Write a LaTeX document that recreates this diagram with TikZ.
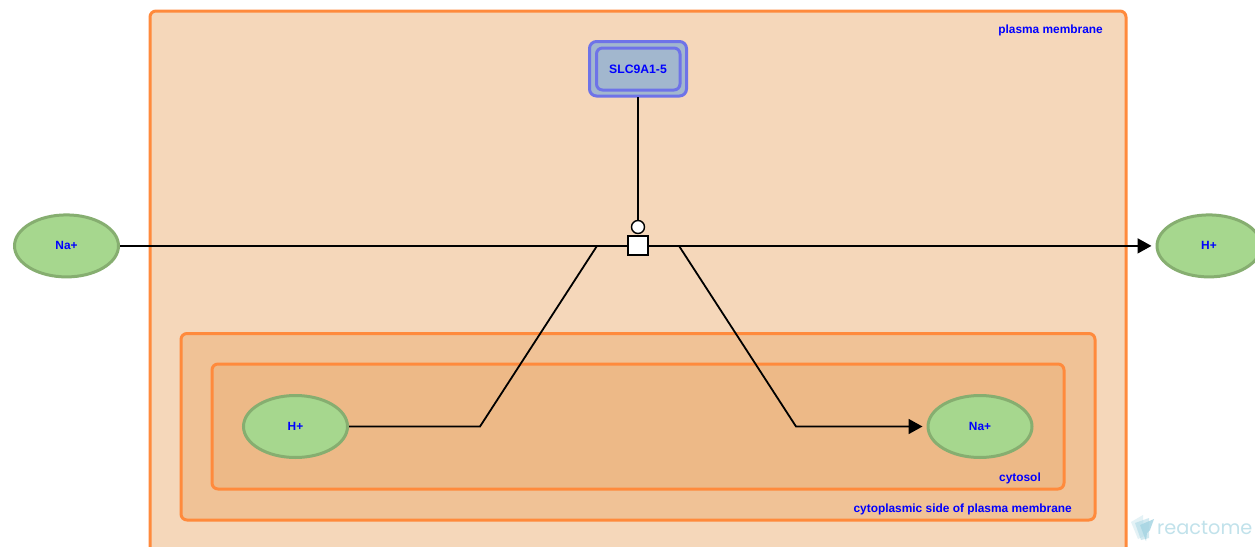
\documentclass[tikz,border=0pt]{standalone}
\usepackage{fontspec}
\setmainfont{Liberation Sans}
\newfontfamily\logofont{Poppins}
\usetikzlibrary{shapes.geometric,arrows.meta}
\definecolor{cmem}{HTML}{F5D7BA}
\definecolor{cside}{HTML}{F0C296}
\definecolor{ccyt}{HTML}{EDB987}
\definecolor{corg}{HTML}{FF8A3C}
\definecolor{cgreen}{HTML}{A6D78E}
\definecolor{cgreenb}{HTML}{86AE70}
\definecolor{cprot}{HTML}{A2B7CE}
\definecolor{cprotb}{HTML}{6E73E8}
\definecolor{clogo}{HTML}{A6D5E3}
\tikzset{
 x=1pt,y=-1pt,
 comp/.style={draw=corg,line width=3pt,rounded corners=6pt},
 lab/.style={text=blue,font=\bfseries\fontsize{11.9}{14}\selectfont,inner sep=0pt},
 chem/.style={ellipse,draw=cgreenb,fill=cgreen,line width=3pt,minimum width=104pt,minimum height=62pt,inner sep=0pt,text=blue,font=\bfseries\fontsize{11.9}{14}\selectfont},
 conn/.style={draw=black,line width=1.8pt},
 arr/.style={conn,-{Triangle[length=14pt,width=15pt]},shorten >=4pt},
}
\begin{document}
\begin{tikzpicture}
\useasboundingbox (0,0) rectangle (1255,546);
\clip (0,0) rectangle (1255,546);
\fill[white] (0,0) rectangle (1255,546);
\draw[comp,fill=cmem] (150,11) rectangle (1126,600);
\draw[comp,fill=cside] (181,333.5) rectangle (1095,520);
\draw[comp,fill=ccyt] (212,364) rectangle (1064,489);
\node[lab,anchor=east] (lmem) at (1103,30.5) {plasma membrane};
\node[lab,anchor=east] (lside) at (1072,509) {cytoplasmic side of plasma membrane};
\node[lab,anchor=east] (lcyt) at (1041,478) {cytosol};
\draw[draw=cprotb,fill=cprot,line width=3pt,rounded corners=7pt] (589.5,41.5) rectangle (686.5,96);
\draw[draw=cprotb,fill=cprot,line width=3pt,rounded corners=6pt] (596.5,48) rectangle (680,90);
\node[inner sep=0pt,minimum width=97pt,minimum height=55pt,lab,font=\bfseries\fontsize{12.2}{14}\selectfont] (prot) at (638,69.5) {SLC9A1-5};
\node[chem] (naL) at (66.5,245.9) {\raisebox{-1pt}{Na+}};
\node[chem] (hR) at (1209,245.9) {\raisebox{-1pt}{H+}};
\node[chem] (hC) at (295.5,426.5) {\raisebox{-1pt}{H+}};
\node[chem] (naC) at (980,426.5) {\raisebox{-1pt}{Na+}};
\node[draw=black,fill=white,line width=2pt,minimum width=19.5pt,minimum height=19.5pt,inner sep=0pt] (rx) at (638,245.7) {};
\node[circle,draw=black,fill=white,line width=1.4pt,minimum size=13pt,inner sep=0pt] (cat) at (638,227) {};
\coordinate (j1) at (480,426.5);
\coordinate (j2) at (597,245.9);
\coordinate (j3) at (679,245.9);
\coordinate (j4) at (796,426.5);
\draw[conn] (prot.south) -- (cat.north);
\draw[conn] (naL.east) -- (naL.east -| rx.west);
\draw[conn] (hC.east) -- (j1) -- (j2);
\draw[arr] (hR.west -| rx.east) -- (hR.west);
\draw[arr] (j3) -- (j4) -- (naC.west);
% logo
\fill[clogo,opacity=.3] (1131,522) -- (1143,515) -- (1144,536) -- (1138,539) -- cycle;
\fill[clogo,opacity=.5] (1135,523) -- (1149,518) -- (1149,538) -- (1141,540) -- cycle;
\fill[clogo,opacity=.85] (1140,525) -- (1154,519) -- (1150,530) -- (1147,533) -- (1146,541) -- cycle;
\node[inner sep=0pt,anchor=base west,text=clogo!70!white,font=\logofont\fontsize{19.3}{22}\selectfont] (logo) at (1157,534.5) {reactome};
\end{tikzpicture}
\end{document}
